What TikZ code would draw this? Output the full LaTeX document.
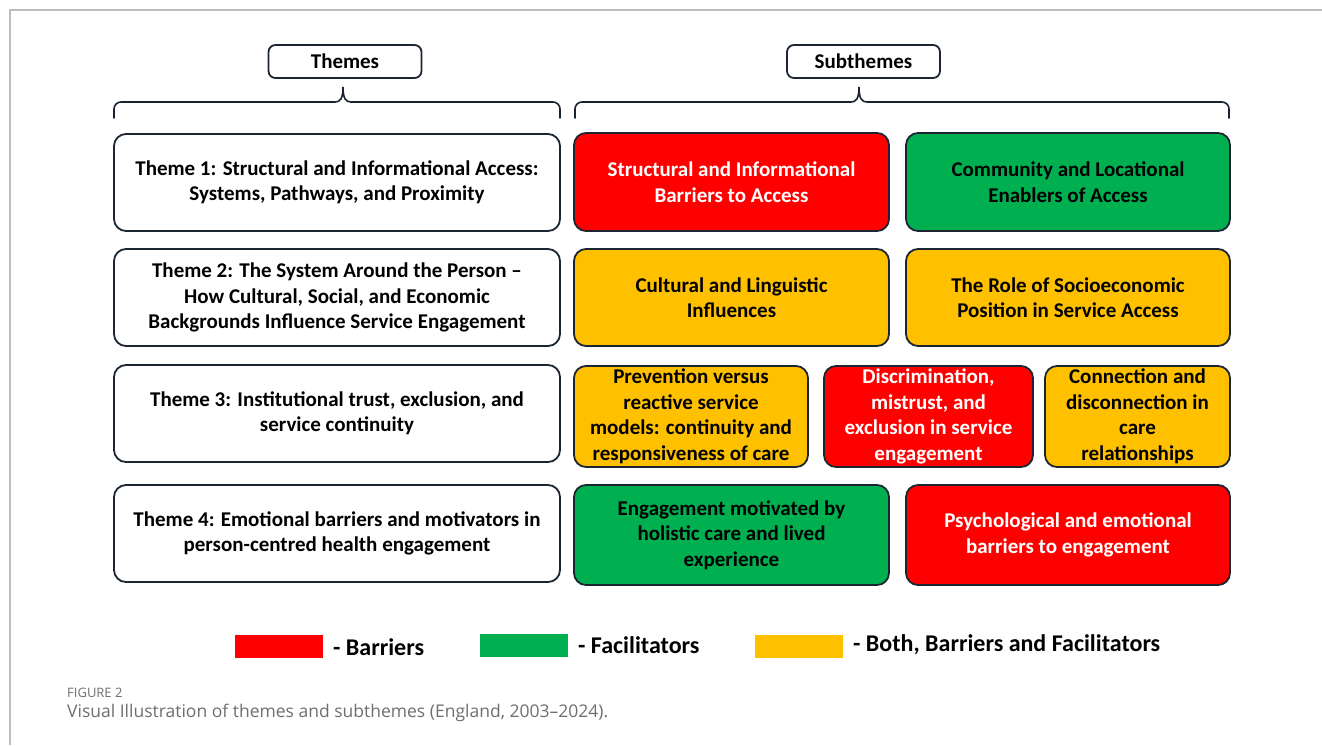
\documentclass[tikz,border=0pt]{standalone}
\usepackage{fontspec}
\setmainfont{Carlito}
\newfontfamily\capfont{Open Sans}
\begin{document}
\definecolor{edge}{HTML}{1C2633}
\definecolor{barrier}{HTML}{FF0000}
\definecolor{facil}{HTML}{00B050}
\definecolor{both}{HTML}{FFC000}
\definecolor{framegray}{HTML}{BDBDC4}
\definecolor{capgray}{HTML}{6E6E6E}
\begin{tikzpicture}[x=1pt,y=-1pt,
  card/.style={draw=edge, line width=1.8pt, rounded corners=12pt, align=center,
    inner sep=0pt, font=\fontsize{21}{25.5}\selectfont\bfseries},
  themebox/.style={card, fill=white, minimum width=446pt, minimum height=97pt},
  header/.style={draw=edge, line width=1.8pt, rounded corners=7pt, fill=white,
    minimum width=153pt, minimum height=33pt, inner sep=0pt,
    font=\fontsize{21}{24}\selectfont\bfseries},
  barbox/.style={card, fill=barrier, text=white},
  facbox/.style={card, fill=facil, text=black},
  bothbox/.style={card, fill=both, text=black},
  brace/.style={line width=1.6pt, draw=edge!90!black, line cap=round},
  swatch/.style={minimum width=88pt, minimum height=23pt, inner sep=0pt},
  legtext/.style={anchor=west, inner sep=0pt, font=\fontsize{24}{28}\selectfont\bfseries}
]
\useasboundingbox (0,0) rectangle (1322,745);

% page frame
\draw[framegray, line width=1.5pt] (1322,10) -- (10,10) -- (10,745);

% column headers
\node[header] (themes) at (345,61.5) {Themes};
\node[header] (subthemes) at (863.5,61.5) {Subthemes};

% braces under the headers
\draw[brace] (114,118) -- (114,109) arc[start angle=180, end angle=270, radius=7]
  -- (335,102) .. controls (340,102) and (343,99) .. (343,87)
  .. controls (343,99) and (346,102) .. (351,102)
  -- (553,102) arc[start angle=270, end angle=360, radius=7] -- (560,118);
\draw[brace] (575,118) -- (575,109) arc[start angle=180, end angle=270, radius=7]
  -- (851,102) .. controls (856,102) and (859,99) .. (859,87)
  .. controls (859,99) and (862,102) .. (867,102)
  -- (1222,102) arc[start angle=270, end angle=360, radius=7] -- (1229,118);

% themes
\node[themebox] (t1) at (337,182.5) {Theme 1: Structural and Informational Access:\\Systems, Pathways, and Proximity};
\node[themebox] (t2) at (337,297.5) {Theme 2: The System Around the Person --\\How Cultural, Social, and Economic\\Backgrounds Influence Service Engagement};
\node[themebox] (t3) at (337,413.5) {Theme 3: Institutional trust, exclusion, and\\service continuity};
\node[themebox] (t4) at (337,533.5) {Theme 4: Emotional barriers and motivators in\\person-centred health engagement};

% subthemes, row 1
\node[barbox, minimum width=315pt, minimum height=98pt] (s11) at (731.5,182) {Structural and Informational\\Barriers to Access};
\node[facbox, minimum width=324pt, minimum height=98pt] (s12) at (1068,182) {Community and Locational\\Enablers of Access};

% row 2
\node[bothbox, minimum width=315pt, minimum height=97pt] (s21) at (731.5,297.5) {Cultural and Linguistic\\Influences};
\node[bothbox, minimum width=324pt, minimum height=97pt] (s22) at (1068,297.5) {The Role of Socioeconomic\\Position in Service Access};

% row 3
\node[bothbox, minimum width=234pt, minimum height=101pt] (s31) at (691,416.5) {Prevention versus\\reactive service\\models: continuity and\\responsiveness of care};
\node[barbox, minimum width=209pt, minimum height=101pt] (s32) at (928.5,416.5) {Discrimination,\\mistrust, and\\exclusion in service\\engagement};
\node[bothbox, minimum width=185pt, minimum height=101pt] (s33) at (1137.5,416.5) {Connection and\\disconnection in\\care\\relationships};

% row 4
\node[facbox, minimum width=315pt, minimum height=100pt] (s41) at (731.5,535) {Engagement motivated by\\holistic care and lived\\experience};
\node[barbox, minimum width=324pt, minimum height=100pt] (s42) at (1068,535) {Psychological and emotional\\barriers to engagement};

% legend
\node[swatch, fill=barrier] (kbar) at (279,646.5) {};
\node[legtext] (lbar) at (333,647) {- Barriers};
\node[swatch, fill=facil] (kfac) at (524,645.5) {};
\node[legtext] (lfac) at (578,645) {- Facilitators};
\node[swatch, fill=both] (kboth) at (799,646) {};
\node[legtext] (lboth) at (853,645) {- Both, Barriers and Facilitators};

% caption
\node[anchor=west, inner sep=0pt, text=capgray, font=\capfont\fontsize{13}{15}\selectfont] (fig) at (67,693) {FIGURE 2};
\node[anchor=west, inner sep=0pt, text=capgray, font=\capfont\fontsize{17.5}{20}\selectfont] (cap) at (67,713) {Visual Illustration of themes and subthemes (England, 2003–2024).};
\end{tikzpicture}
\end{document}
